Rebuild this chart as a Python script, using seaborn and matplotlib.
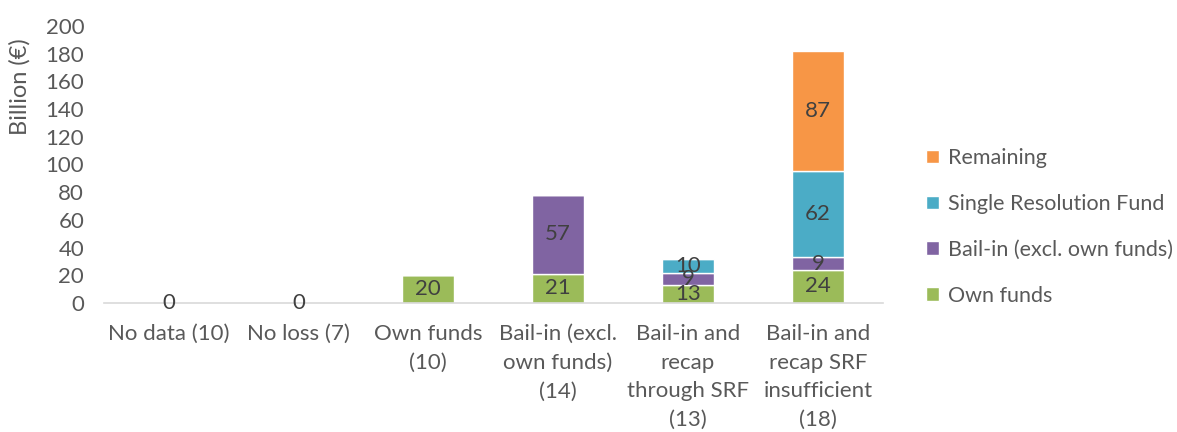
import matplotlib
matplotlib.use('Agg')
import matplotlib.pyplot as plt
import numpy as np
import pandas as pd
import seaborn as sns

# categories and stacked series (billion EUR)
categories = ['No data (10)', 'No loss (7)', 'Own funds\n(10)',
              'Bail-in (excl.\nown funds)\n(14)',
              'Bail-in and\nrecap\nthrough SRF\n(13)',
              'Bail-in and\nrecap SRF\ninsufficient\n(18)']
own_funds = [0, 0, 20, 21, 13, 24]
bail_in = [0, 0, 0, 57, 9, 9]
srf = [0, 0, 0, 0, 10, 62]
remaining = [0, 0, 0, 0, 0, 87]

series = [('Own funds', own_funds, '#9BBB59'),
          ('Bail-in (excl. own funds)', bail_in, '#8064A2'),
          ('Single Resolution Fund', srf, '#4BACC6'),
          ('Remaining', remaining, '#F79646')]

sns.set_theme(style='white')
plt.rcParams['font.family'] = ['Lato', 'DejaVu Sans']
text_col = '#595959'
fs = 16

fig = plt.figure(figsize=(11.77, 4.32), dpi=100)
ax = fig.add_axes([0.088, 0.2986, 0.662, 0.6414])

bottom = np.zeros(len(categories))
handles = []
for name, vals, col in series:
    df = pd.DataFrame({'cat': categories, 'val': vals})
    n_before = len(ax.patches)
    sns.barplot(data=df, x='cat', y='val', order=categories, color=col,
                width=0.4, bottom=bottom, ax=ax, saturation=1, errorbar=None)
    bars = ax.patches[n_before:]
    handles.append((bars[0], name))
    for i, v in enumerate(vals):
        if v > 0 or name == 'Own funds':
            ax.text(i, bottom[i] + v / 2, str(v), ha='center', va='center',
                    fontsize=fs, color='#404040')
    bottom = bottom + np.array(vals)

ax.set_ylim(0, 200)
ax.set_xlim(-0.5, len(categories) - 0.5)
ax.set_yticks(np.arange(0, 201, 20))
ax.set_xlabel('')
ax.set_ylabel('Billion (€)', fontsize=17, color=text_col)
ax.yaxis.set_label_coords(-0.094, 0.78)
ax.tick_params(axis='both', length=0, labelsize=fs, colors=text_col)
ax.tick_params(axis='x', pad=15)
ax.tick_params(axis='y', pad=14)
for lab in ax.get_xticklabels():
    lab.set_linespacing(1.55)
for s in ['top', 'right', 'left']:
    ax.spines[s].set_visible(False)
ax.spines['bottom'].set_color('#D9D9D9')
ax.spines['bottom'].set_linewidth(1.2)

h = [p for p, _ in handles][::-1]
l = [n for _, n in handles][::-1]
fig.legend(h, l, loc='upper left', bbox_to_anchor=(0.787, 0.657), frameon=False,
           fontsize=15.5, labelcolor=text_col, handlelength=0.6, handleheight=0.6,
           handletextpad=0.4, labelspacing=1.2, borderaxespad=0, borderpad=0)

fig.savefig('out.png', dpi=100)
